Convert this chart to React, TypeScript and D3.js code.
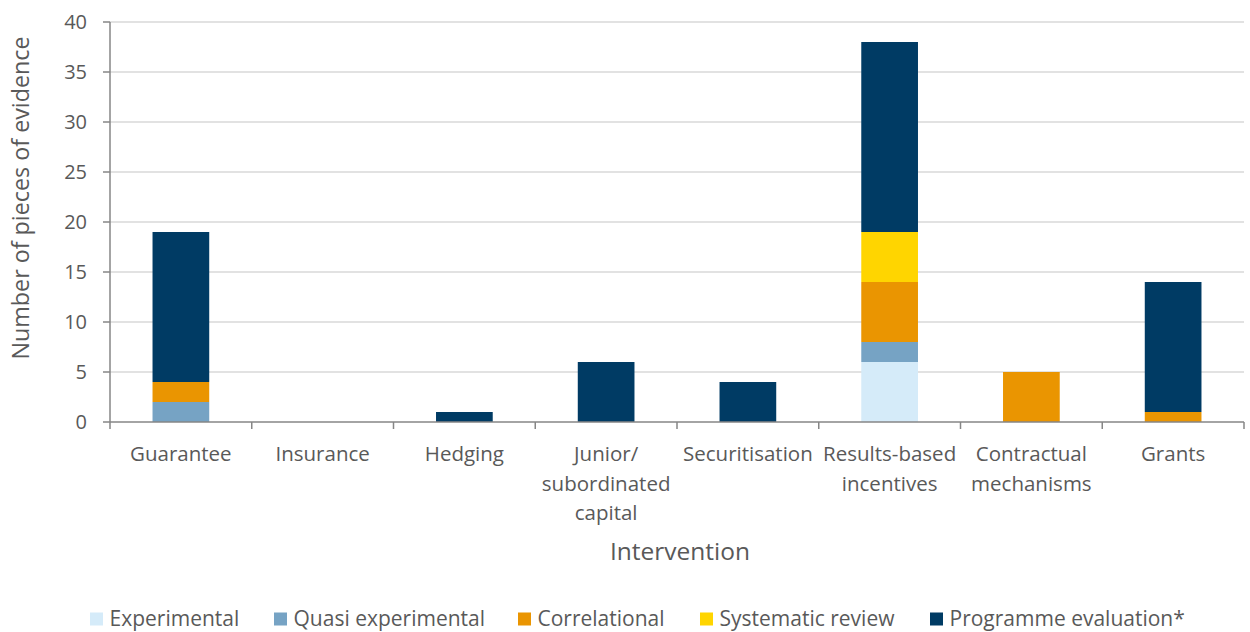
import * as d3 from 'd3'

const categories = [
  'Guarantee',
  'Insurance',
  'Hedging',
  'Junior/\nsubordinated\ncapital',
  'Securitisation',
  'Results-based\nincentives',
  'Contractual\nmechanisms',
  'Grants',
]

const seriesNames = ['Experimental', 'Quasi experimental', 'Correlational', 'Systematic review', 'Programme evaluation*']
const seriesColors = ['#d5ebf9', '#76a3c4', '#ea9501', '#ffd500', '#003b64']

const experimental = [0, 0, 0, 0, 0, 6, 0, 0]
const quasiExperimental = [2, 0, 0, 0, 0, 2, 0, 0]
const correlational = [2, 0, 0, 0, 0, 6, 5, 1]
const systematicReview = [0, 0, 0, 0, 0, 5, 0, 0]
const programmeEvaluation = [15, 0, 1, 6, 4, 19, 0, 13]

const yTicks = [0, 5, 10, 15, 20, 25, 30, 35, 40]

const width = 1250
const height = 632
const margin = { top: 22, right: 6, bottom: 210, left: 110 }
const innerWidth = width - margin.left - margin.right
const innerHeight = height - margin.top - margin.bottom

const font = '"Open Sans", sans-serif'
const textColor = '#595959'

// legend x positions (swatch left edge)
const legendX = [90, 274, 518, 700, 930]

const App = () => {
  const values = [experimental, quasiExperimental, correlational, systematicReview, programmeEvaluation]
  const rows = categories.map((c, i) => {
    const row: Record<string, number | string> = { category: c }
    seriesNames.forEach((s, j) => (row[s] = values[j][i]))
    return row
  })
  const stacked = d3.stack<Record<string, number | string>>().keys(seriesNames)(rows as any)

  const x = d3.scaleBand<string>().domain(categories).range([0, innerWidth]).paddingInner(0.6).paddingOuter(0.3)
  const y = d3.scaleLinear().domain([0, 40]).range([innerHeight, 0])
  const step = x.step()
  const bandStart = (c: string) => (x(c) ?? 0) - step * 0.3

  return (
    <svg width={width} height={height} style={{ position: 'absolute', left: 0, top: 0, background: '#fff' }}>
      <g transform={`translate(${margin.left},${margin.top})`} fontFamily={font}>
        {yTicks.map((t) => (
          <g key={t}>
            {t > 0 && <line x1={0} x2={innerWidth} y1={y(t)} y2={y(t)} stroke="#d9d9d9" strokeWidth={1.5} />}
            <line x1={-7} x2={0} y1={y(t)} y2={y(t)} stroke="#868686" strokeWidth={1.5} />
            <text x={-23} y={y(t)} dy="0.36em" textAnchor="end" fontSize={20} fill={textColor}>
              {t}
            </text>
          </g>
        ))}

        {stacked.map((layer, j) =>
          layer.map((d, i) =>
            d[1] - d[0] > 0 ? (
              <rect
                key={`${j}-${i}`}
                x={x(categories[i])}
                y={y(d[1])}
                width={x.bandwidth()}
                height={y(d[0]) - y(d[1])}
                fill={seriesColors[j]}
              />
            ) : null,
          ),
        )}

        <line x1={0} x2={0} y1={0} y2={innerHeight} stroke="#868686" strokeWidth={1.5} />
        <line x1={0} x2={innerWidth} y1={innerHeight} y2={innerHeight} stroke="#868686" strokeWidth={1.5} />
        {categories.map((c) => (
          <line
            key={c}
            x1={bandStart(c)}
            x2={bandStart(c)}
            y1={innerHeight}
            y2={innerHeight + 7}
            stroke="#868686"
            strokeWidth={1.5}
          />
        ))}
        <line x1={innerWidth} x2={innerWidth} y1={innerHeight} y2={innerHeight + 7} stroke="#868686" strokeWidth={1.5} />

        {categories.map((c) => (
          <text key={c} textAnchor="middle" fontSize={20.5} fill={textColor}>
            {c.split('\n').map((line, k) => (
              <tspan key={k} x={(x(c) ?? 0) + x.bandwidth() / 2} y={innerHeight + 39 + k * 29.5}>
                {line}
              </tspan>
            ))}
          </text>
        ))}

        <text x={innerWidth / 2 + 3} y={innerHeight + 138} textAnchor="middle" fontSize={24.5} fill={textColor}>
          Intervention
        </text>
        <text
          transform={`translate(${-81},${176}) rotate(-90)`}
          textAnchor="middle"
          fontSize={23.3}
          fill={textColor}
        >
          Number of pieces of evidence
        </text>
      </g>

      <g fontFamily={font}>
        {seriesNames.map((s, j) => (
          <g key={s} transform={`translate(${legendX[j]},${612.5})`}>
            <rect width={13} height={13} fill={seriesColors[j]} />
            <text x={19.5} y={6.5} dy="0.33em" fontSize={21} fill={textColor}>
              {s}
            </text>
          </g>
        ))}
      </g>
    </svg>
  )
}

export default App
